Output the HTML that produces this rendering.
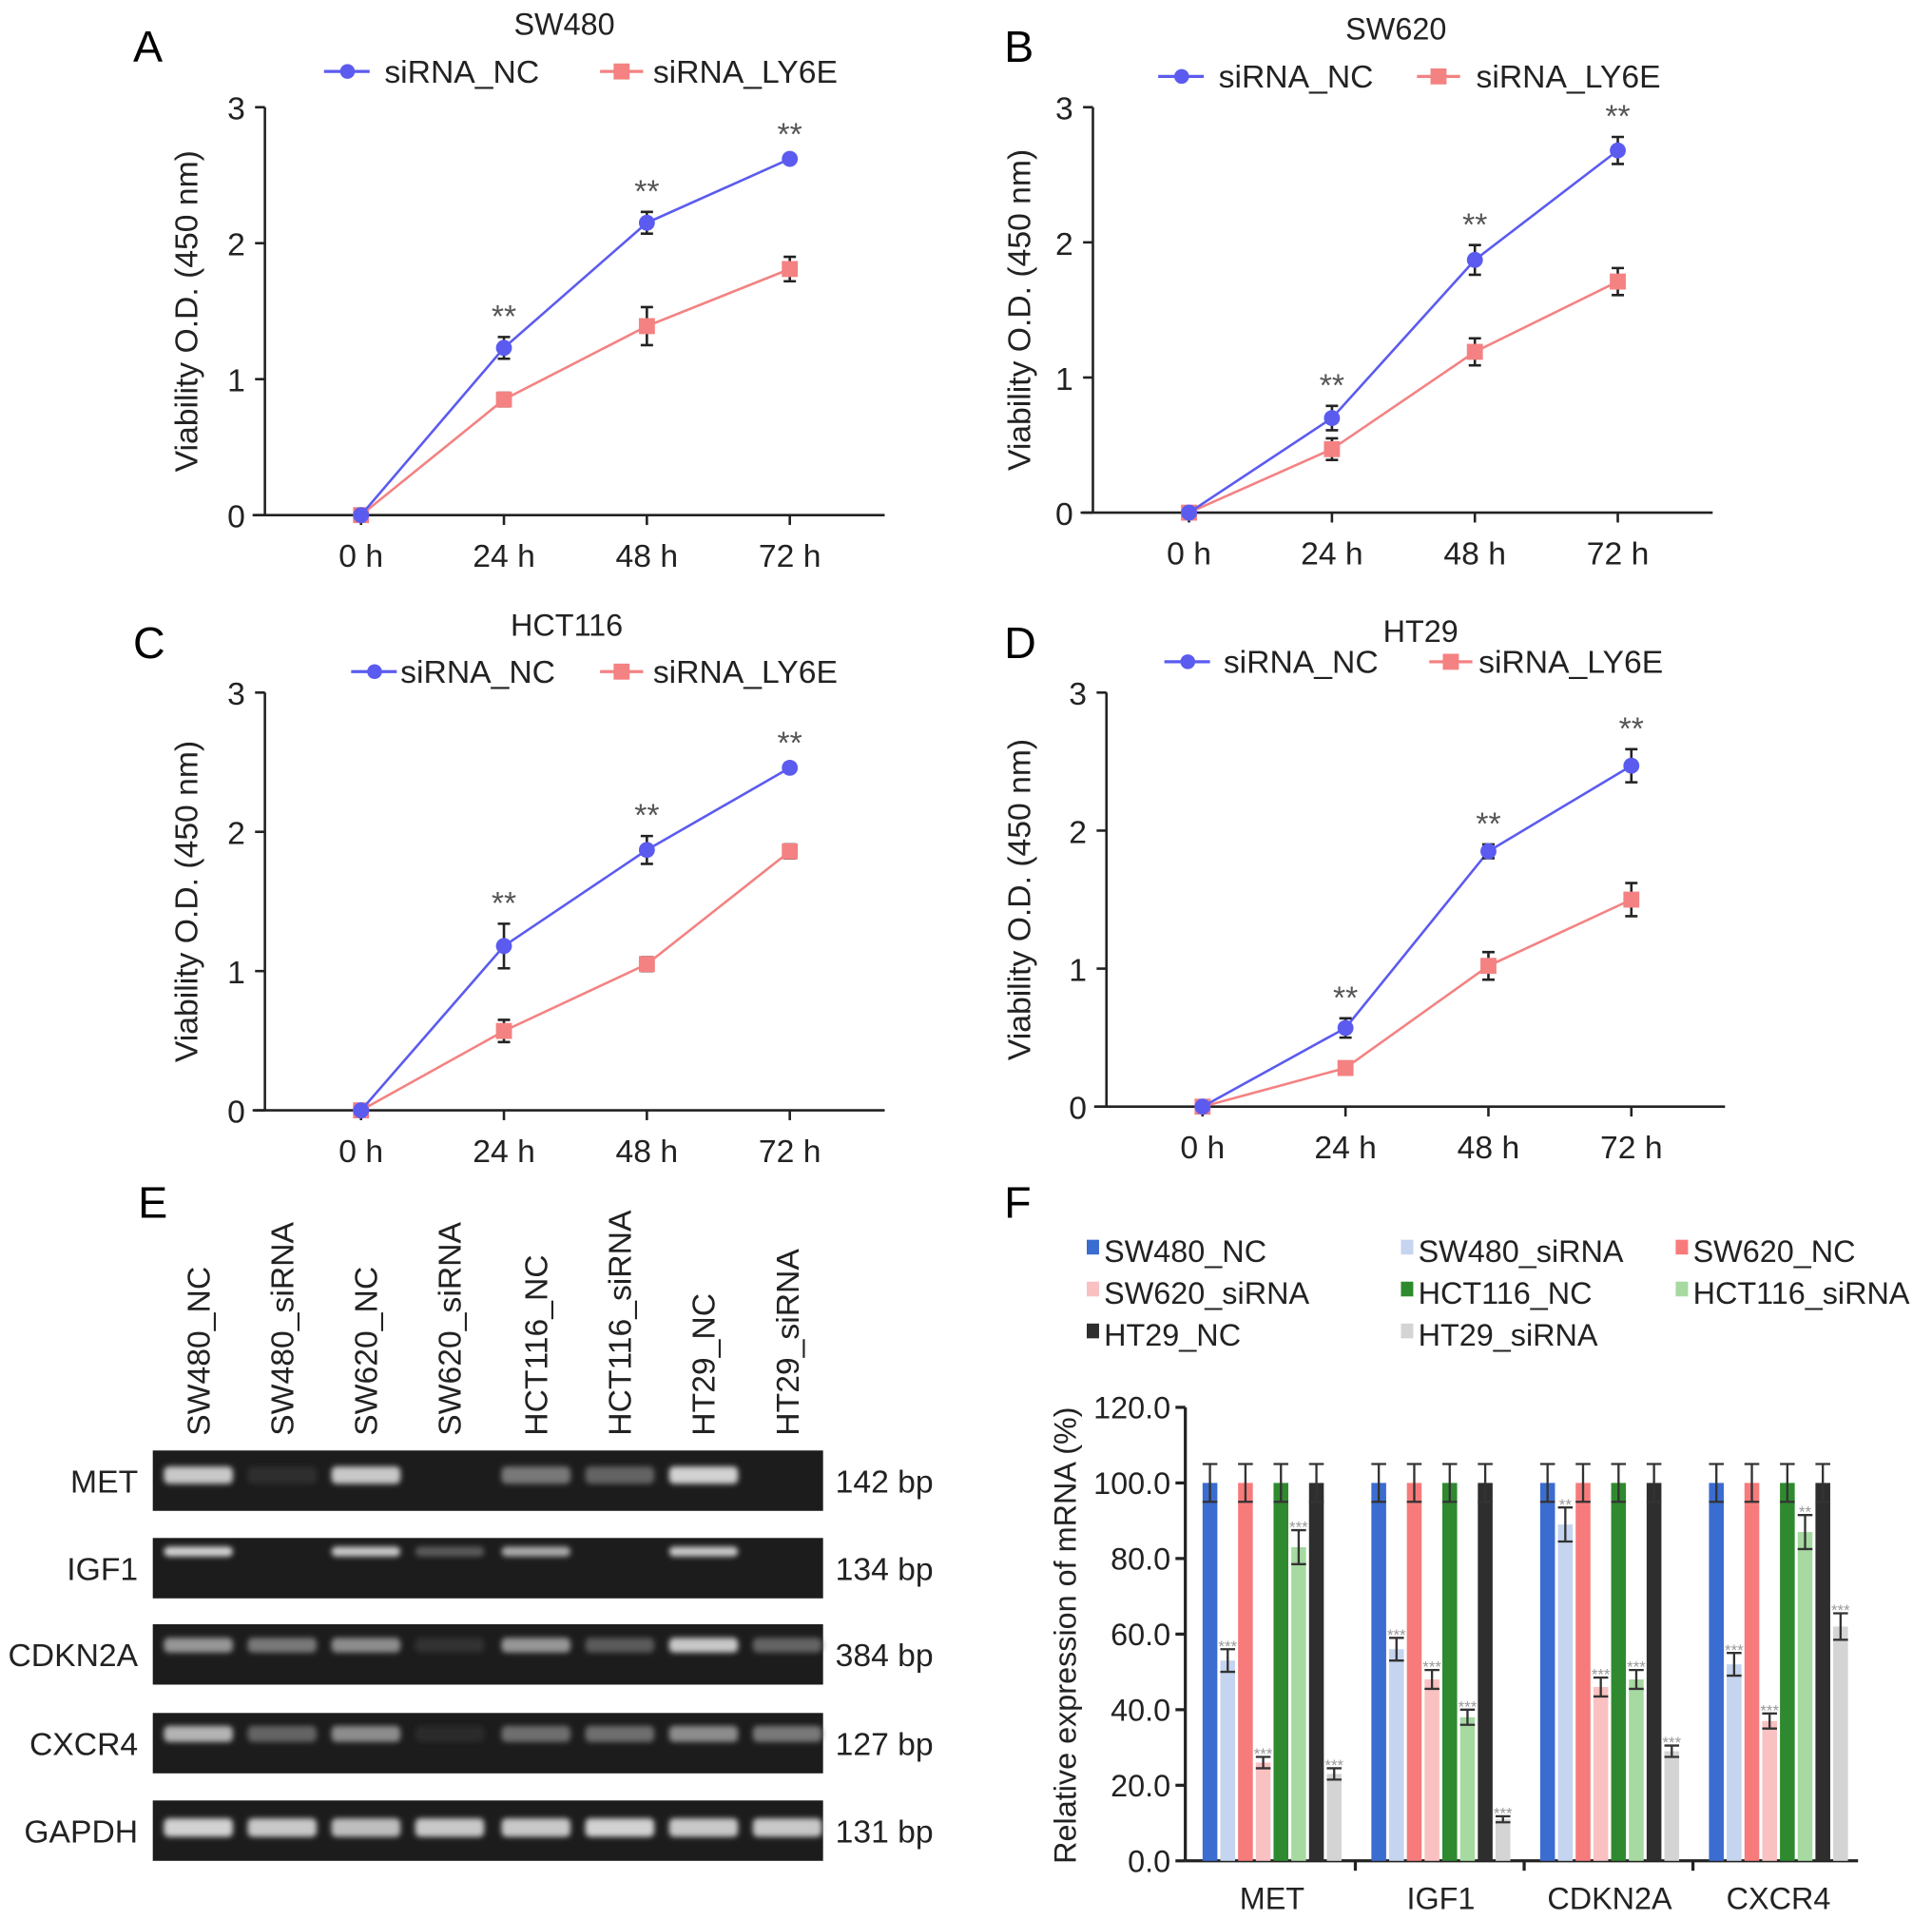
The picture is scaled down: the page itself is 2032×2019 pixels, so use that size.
<!DOCTYPE html>
<html><head><meta charset="utf-8"><style>
html,body{margin:0;padding:0;background:#fff}
svg{display:block;font-family:"Liberation Sans",Arial,sans-serif}
</style></head><body>
<svg id="fig" width="2032" height="2019" viewBox="0 0 1568 1558" preserveAspectRatio="none" xmlns="http://www.w3.org/2000/svg"></svg>
<script>
// ---- Line chart data ----
const timeLabels = ["0 h","24 h","48 h","72 h"];
const yTicksLine = [0,1,2,3];
const A_nc = [0,1.23,2.15,2.62], A_ncErr = [0,0.08,0.08,0.03];
const A_ly = [0,0.85,1.39,1.81], A_lyErr = [0,0.05,0.14,0.09];
const B_nc = [0,0.70,1.87,2.68], B_ncErr = [0,0.09,0.11,0.10];
const B_ly = [0,0.47,1.19,1.71], B_lyErr = [0,0.08,0.10,0.10];
const C_nc = [0,1.18,1.87,2.46], C_ncErr = [0,0.16,0.10,0.03];
const C_ly = [0,0.57,1.05,1.86], C_lyErr = [0,0.08,0.05,0.05];
const D_nc = [0,0.57,1.85,2.47], D_ncErr = [0,0.07,0.05,0.12];
const D_ly = [0,0.28,1.02,1.50], D_lyErr = [0,0.02,0.10,0.12];
// ---- Gel data ----
const lanes = ["SW480_NC","SW480_siRNA","SW620_NC","SW620_siRNA","HCT116_NC","HCT116_siRNA","HT29_NC","HT29_siRNA"];
const genes = ["MET","IGF1","CDKN2A","CXCR4","GAPDH"];
const sizes = ["142 bp","134 bp","384 bp","127 bp","131 bp"];
const bandMET = [0.8,0.03,0.8,0,0.4,0.3,0.85,0];
const bandIGF1 = [0.85,0,0.8,0.25,0.65,0,0.8,0];
const bandCDKN2A = [0.55,0.4,0.5,0.04,0.55,0.25,0.8,0.3];
const bandCXCR4 = [0.7,0.3,0.5,0.02,0.35,0.35,0.5,0.4];
const bandGAPDH = [0.85,0.8,0.75,0.8,0.8,0.85,0.8,0.8];
// ---- Bar chart data ----
const barGenes = ["MET","IGF1","CDKN2A","CXCR4"];
const seriesNames = ["SW480_NC","SW480_siRNA","SW620_NC","SW620_siRNA","HCT116_NC","HCT116_siRNA","HT29_NC","HT29_siRNA"];
const barTicks = ["0.0","20.0","40.0","60.0","80.0","100.0","120.0"];
const valMET = [100,53,100,26,100,83,100,23], errMET = [5,3,5,1.5,5,4.5,5,1.5];
const valIGF1 = [100,56,100,48,100,38,100,11], errIGF1 = [5,3,5,2.5,5,2,5,0.8];
const valCDKN2A = [100,89,100,46,100,48,100,29], errCDKN2A = [5,4.5,5,2.5,5,2.5,5,1.5];
const valCXCR4 = [100,52,100,37,100,87,100,62], errCXCR4 = [5,3,5,2,5,4.5,5,3.5];
const starsMET = ["","***","","***","","***","","***"];
const starsIGF1 = ["","***","","***","","***","","***"];
const starsCDKN2A = ["","**","","***","","***","","***"];
const starsCXCR4 = ["","***","","***","","**","","***"];

const NS="http://www.w3.org/2000/svg";
const svg=document.getElementById('fig');
function el(tag,attrs,parent,text){const e=document.createElementNS(NS,tag);for(const k in attrs)e.setAttribute(k,attrs[k]);if(text!==undefined)e.textContent=text;(parent||svg).appendChild(e);return e;}

const BLUE="#5b5bf0", PINK="#f48282";
function lineChart(cfg){
  const g=el('g',{});
  
  
  const {x0,x1,yTop,yBot,xs}=cfg;
  const Y=v=>yBot-(v/3)*(yBot-yTop);
  const X=i=>xs[0]+i*(xs[1]-xs[0]);
  const t=el('text',{x:cfg.lx,y:cfg.ly,'font-size':36},g,cfg.letter);
  
  const ti=el('text',{x:cfg.tx,y:cfg.ty,'font-size':25,'text-anchor':'middle',fill:'#222'},g,cfg.title);
  
  const lg=el('g',{},g);
  el('line',{x1:cfg.leg[0],x2:cfg.leg[0]+37,y1:cfg.legY,y2:cfg.legY,stroke:BLUE,'stroke-width':2.5},lg);
  el('circle',{cx:cfg.leg[0]+19,cy:cfg.legY,r:6,fill:BLUE},lg);
  el('text',{x:cfg.leg[1],y:cfg.legY+9,'font-size':26,fill:'#222'},lg,'siRNA_NC');
  el('line',{x1:cfg.leg[2],x2:cfg.leg[2]+35,y1:cfg.legY,y2:cfg.legY,stroke:PINK,'stroke-width':2.5},lg);
  el('rect',{x:cfg.leg[2]+11,y:cfg.legY-6.5,width:13,height:13,fill:PINK},lg);
  el('text',{x:cfg.leg[3],y:cfg.legY+9,'font-size':26,fill:'#222'},lg,'siRNA_LY6E');
  const ax=el('g',{stroke:'#222','stroke-width':2},g);
  el('line',{x1:x0,x2:x0,y1:yTop,y2:yBot},ax);
  el('line',{x1:x0-10,x2:x1,y1:yBot,y2:yBot},ax);
  yTicksLine.forEach(v=>{
    el('line',{x1:x0-8,x2:x0,y1:Y(v),y2:Y(v)},ax);
    const tt=el('text',{x:x0-16,y:Y(v)+10,'font-size':26,'text-anchor':'end',fill:'#222',stroke:'none'},g,String(v));
    
  });
  timeLabels.forEach((l,i)=>{
    el('line',{x1:X(i),x2:X(i),y1:yBot,y2:yBot+8},ax);
    const tt=el('text',{x:X(i),y:yBot+42,'font-size':26,'text-anchor':'middle',fill:'#222'},g,l);
    
  });
  const yl=el('text',{x:0,y:0,'font-size':26,'text-anchor':'middle',fill:'#222',transform:`translate(${cfg.ylx},${(yTop+yBot)/2}) rotate(-90)`},g,'Viability O.D. (450 nm)');
  
  [[cfg.ly_,cfg.lyE,PINK,'ly6e'],[cfg.nc,cfg.ncE,BLUE,'nc']].forEach(([d,e,c,n])=>{
    const s=el('g',{},g);
    el('polyline',{points:d.map((v,i)=>X(i)+','+Y(v)).join(' '),fill:'none',stroke:c,'stroke-width':2},s);
    d.forEach((v,i)=>{
      if(e[i]>0){const a=Y(v+e[i]),b=Y(v-e[i]);
        el('path',{d:`M${X(i)},${a}V${b}M${X(i)-5},${a}h10M${X(i)-5},${b}h10`,stroke:'#222','stroke-width':2,fill:'none'},s);}
      const m = n==='nc'? el('circle',{cx:X(i),cy:Y(v),r:6.5,fill:c},s) : el('rect',{x:X(i)-6.5,y:Y(v)-6.5,width:13,height:13,fill:c},s);
      
    });
  });
  cfg.nc.forEach((v,i)=>{ if(i>0){
    const st=el('text',{x:X(i),y:Y(v+cfg.ncE[i])-8,'font-size':26,'text-anchor':'middle',fill:'#555'},g,'**');
    }});
}
lineChart({name:'chart-a-sw480',letter:'A',lx:108,ly:50,title:'SW480',tx:458,ty:28,legY:58,leg:[263,312,487,530],x0:215,x1:718,yTop:87,yBot:418,xs:[293,409],ylx:160,nc:A_nc,ncE:A_ncErr,ly_:A_ly,lyE:A_lyErr});
lineChart({name:'chart-b-sw620',letter:'B',lx:815,ly:50,title:'SW620',tx:1133,ty:32,legY:62,leg:[940,989,1150,1198],x0:887,x1:1390,yTop:87,yBot:416,xs:[965,1081],ylx:836,nc:B_nc,ncE:B_ncErr,ly_:B_ly,lyE:B_lyErr});
lineChart({name:'chart-c-hct116',letter:'C',lx:108,ly:534,title:'HCT116',tx:460,ty:516,legY:545,leg:[285,325,487,530],x0:215,x1:718,yTop:562,yBot:901,xs:[293,409],ylx:160,nc:C_nc,ncE:C_ncErr,ly_:C_ly,lyE:C_lyErr});
lineChart({name:'chart-d-ht29',letter:'D',lx:815,ly:534,title:'HT29',tx:1153,ty:521,legY:537,leg:[945,993,1160,1200],x0:898,x1:1400,yTop:562,yBot:898,xs:[976,1092],ylx:836,nc:D_nc,ncE:D_ncErr,ly_:D_ly,lyE:D_lyErr});

// ---- Gel ----
(function(){
  const g=el('g',{});
  el('text',{x:112,y:988,'font-size':36},g,'E');
  const laneX=[160,228,296,364,434,502,570,638];
  const rows=[1177,1248,1318,1390,1461], bands=[bandMET,bandIGF1,bandCDKN2A,bandCXCR4,bandGAPDH];
  const bandOff=[20,11,17,17,22], bandH=[14,8,12,13,15];
  lanes.forEach((l,i)=>{
    const t=el('text',{x:0,y:0,'font-size':26,fill:'#222',transform:`translate(${laneX[i]+10},1165) rotate(-90)`},g,l);
    
  });
  const fl=el('filter',{id:'blur',x:'-20%',y:'-80%',width:'140%',height:'260%'},el('defs',{},g));
  el('feGaussianBlur',{stdDeviation:'2.2'},fl);
  rows.forEach((y,r)=>{
    const gr=el('rect',{x:124,y:y,width:544,height:49,fill:'#1c1c1c'},g);
    
    bands[r].forEach((v,i)=>{ if(v>0.01){
      const c=Math.round(40+v*200);
      el('rect',{x:laneX[i]-27,y:y+bandOff[r]-bandH[r]/2,width:56,height:bandH[r],rx:4,fill:`rgb(${c},${c},${c})`,filter:'url(#blur)'},g);
    }});
    const gl=el('text',{x:112,y:y+34,'font-size':26,'text-anchor':'end',fill:'#222'},g,genes[r]);
    
    const sl=el('text',{x:678,y:y+34,'font-size':26,fill:'#222'},g,sizes[r]);
    
  });
})();

// ---- Bar chart ----
(function(){
  const g=el('g',{});
  el('text',{x:815,y:988,'font-size':36},g,'F');
  const colors=["#3b6cd0","#c5d4ef","#f77b7b","#f9c1c1","#2f8a2f","#a6daa0","#2e2e2e","#d4d4d4"];
  const legX=[885,1140,1363], legY=[1014,1048,1082];
  seriesNames.forEach((n,i)=>{
    const lg=el('g',{},g);
    const cx=legX[i%3], cy=legY[Math.floor(i/3)];
    el('rect',{x:cx-3,y:cy-8,width:10,height:12,fill:colors[i]},lg);
    el('text',{x:cx+11,y:cy+10,'font-size':25,fill:'#222'},lg,n);
  });
  const x0=962,x1=1508,yTop=1142,yBot=1510;
  const Y=v=>yBot-(v/120)*(yBot-yTop);
  const ax=el('g',{stroke:'#222','stroke-width':2.5},g);
  el('line',{x1:x0,x2:x0,y1:yTop,y2:yBot},ax);
  el('line',{x1:x0,x2:x1,y1:yBot,y2:yBot},ax);
  barTicks.forEach((l,i)=>{const v=i*20;
    el('line',{x1:x0-8,x2:x0,y1:Y(v),y2:Y(v)},ax);
    const t=el('text',{x:x0-12,y:Y(v)+9,'font-size':25,'text-anchor':'end',fill:'#222',stroke:'none'},g,l);
    
  });
  [1100,1237,1374].forEach(x=>el('line',{x1:x,x2:x,y1:yBot,y2:yBot+8},ax));
  const yl=el('text',{x:0,y:0,'font-size':25,'text-anchor':'middle',fill:'#222',transform:`translate(873,1327) rotate(-90)`},g,'Relative expression of mRNA (%)');
  
  const vals=[valMET,valIGF1,valCDKN2A,valCXCR4], errs=[errMET,errIGF1,errCDKN2A,errCXCR4], stars=[starsMET,starsIGF1,starsCDKN2A,starsCXCR4];
  const bw=12, step=14.4, gstep=137, start=976;
  barGenes.forEach((gn,gi)=>{
    vals[gi].forEach((v,i)=>{
      const cx=start+gi*gstep+i*step+bw/2;
      const b=el('rect',{x:cx-bw/2,y:Y(v),width:bw,height:yBot-Y(v),fill:colors[i]},g);
      
      const e=errs[gi][i],a=Y(v+e),bb=Y(v-e);
      el('path',{d:`M${cx},${a}V${bb}M${cx-6},${a}h12M${cx-6},${bb}h12`,stroke:'#333','stroke-width':1.8,fill:'none'},g);
      if(stars[gi][i]){const s=el('text',{x:cx,y:a+2,'font-size':13,'text-anchor':'middle',fill:'#999'},g,stars[gi][i]);
        }
    });
    const cl=el('text',{x:start+gi*gstep+3.5*step+bw/2,y:1549,'font-size':25,'text-anchor':'middle',fill:'#222'},g,gn);
    
  });
})();
</script>
</body></html>
